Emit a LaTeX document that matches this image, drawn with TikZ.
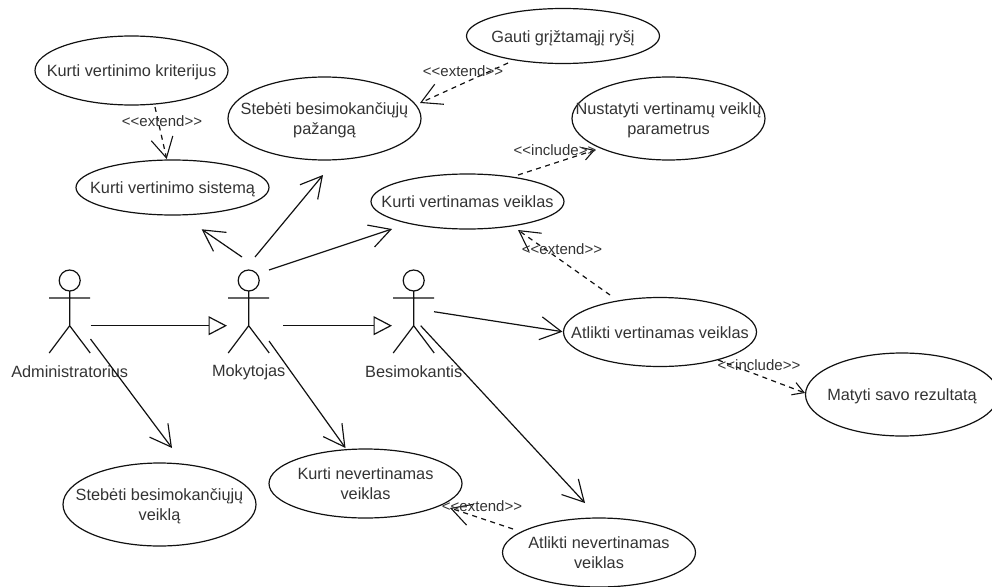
\documentclass[tikz,border=0pt]{standalone}
\usepackage{fontspec}
\setmainfont{Liberation Sans}
\usetikzlibrary{shapes.geometric,arrows.meta}
\definecolor{inkc}{HTML}{111111}
\definecolor{textc}{HTML}{333333}
\newcommand\uctx[1]{\makebox[0pt]{\raisebox{-.4em}[0pt][0pt]{$\vcenter{\hbox{\begin{tabular}{@{}c@{}}#1\end{tabular}}}$}}}
\newcommand\umlactor[3]{%
  \node[acthead] (#1) at (#2,280.5) {};
  \draw[actline] (#1.south) -- (#2,325.7) (#2-20.5,298) -- (#2+20.5,298)
    (#2-20.5,353) -- (#2,325.7) -- (#2+20.5,353);
  \node[actlabel] (#1lab) at (#2,372) {#3};
}
\tikzset{
  ucase/.style 2 args={draw=inkc,ellipse,inner sep=0pt,outer sep=0pt,minimum width=#1pt,minimum height=#2pt,
    font=\fontsize{16.3}{19.3}\selectfont,text=textc},
  acthead/.style={draw=inkc,circle,inner sep=0pt,outer sep=0pt,minimum size=21pt},
  actline/.style={draw=inkc},
  actlabel/.style={font=\fontsize{16.3}{19.3}\selectfont,text=textc,inner sep=0pt},
  edgelabel/.style={font=\fontsize{15}{17}\selectfont,text=textc,inner sep=0pt},
  assoc/.style={draw=inkc,-{Straight Barb[length=21pt,width=23pt,line width=1.15pt]}},
  gener/.style={draw=inkc,line width=1.4pt,-{Triangle[open,length=18.5pt,width=19pt,fill=white,line width=1.2pt]}},
  dep/.style={draw=inkc,dash pattern=on 5pt off 4.5pt,-{Straight Barb[length=20pt,width=22pt,line width=1.1pt]}},
  depsmall/.style={draw=inkc,dash pattern=on 5pt off 4.5pt,-{Straight Barb[length=11pt,width=13pt,line width=1.1pt]}},
}
\begin{document}
\begin{tikzpicture}[x=1pt,y=-1pt,line width=1.2pt]
\useasboundingbox (0,0) rectangle (992,586);
% use cases
\node[ucase={193}{69}] (kk) at (131.5,70.5) {\uctx{Kurti vertinimo kriterijus}};
\node[ucase={193}{55}] (ks) at (172.5,187.5) {\uctx{Kurti vertinimo sistemą}};
\node[ucase={193}{83}] (sp) at (324.5,118.5) {\uctx{Stebėti besimokančiųjų\\pažangą}};
\node[ucase={193}{55}] (gr) at (563,36) {\uctx{Gauti grįžtamąjį ryšį}};
\node[ucase={193}{83}] (nv) at (668.5,118.5) {\uctx{Nustatyti vertinamų veiklų\\parametrus}};
\node[ucase={193}{55}] (kv) at (467.5,201.5) {\uctx{Kurti vertinamas veiklas}};
\node[ucase={193}{69}] (av) at (660,332) {\uctx{Atlikti vertinamas veiklas}};
\node[ucase={193}{83}] (mr) at (902,394.5) {\uctx{Matyti savo rezultatą}};
\node[ucase={193}{83}] (sv) at (159.5,504.5) {\uctx{Stebėti besimokančiųjų\\veiklą}};
\node[ucase={193}{69}] (kn) at (365.5,483.5) {\uctx{Kurti nevertinamas\\veiklas}};
\node[ucase={193}{69}] (an) at (599,552.5) {\uctx{Atlikti nevertinamas\\veiklas}};
% actors
\umlactor{adm}{69.7}{Administratorius}
\umlactor{mok}{248.7}{Mokytojas}
\umlactor{bes}{413.7}{Besimokantis}
% free connector ends
\coordinate (a1) at (90.5,325.7);   \coordinate (a1t) at (227,325.7);
\coordinate (m1) at (283,325.7);    \coordinate (m1t) at (392,325.7);
\coordinate (a2) at (90.5,339);     \coordinate (a2t) at (172,448);
\coordinate (m2) at (269,341);      \coordinate (m2t) at (345.5,448);
\coordinate (m3) at (242,257);      \coordinate (m3t) at (201.7,229.3);
\coordinate (m4) at (255,257);      \coordinate (m4t) at (323,175);
\coordinate (m5) at (269,270);      \coordinate (m5t) at (392,229);
\coordinate (b1) at (434,311.7);    \coordinate (b1t) at (562.5,331.7);
\coordinate (b2) at (420.7,325.7);  \coordinate (b2t) at (585,503);
\coordinate (d1) at (155,107);      \coordinate (d1t) at (166.7,159);
\coordinate (d2) at (508,63);       \coordinate (d2t) at (420,103);
\coordinate (d3) at (518,175);      \coordinate (d3t) at (595,150);
\coordinate (d4) at (610,295);      \coordinate (d4t) at (518,230);
\coordinate (d5) at (718,360);      \coordinate (d5t) at (805,393);
\coordinate (d6) at (513,529);      \coordinate (d6t) at (450,508);
% connectors
\draw[gener] (a1) -- (a1t);
\draw[gener] (m1) -- (m1t);
\draw[assoc] (a2) -- (a2t);
\draw[assoc] (m2) -- (m2t);
\draw[assoc] (m3) -- (m3t);
\draw[assoc] (m4) -- (m4t);
\draw[assoc] (m5) -- (m5t);
\draw[assoc] (b1) -- (b1t);
\draw[assoc] (b2) -- (b2t);
\draw[dep] (d1) -- (d1t);
\draw[dep] (d2) -- (d2t);
\draw[depsmall] (d3) -- (d3t);
\draw[dep] (d4) -- (d4t);
\draw[depsmall] (d5) -- (d5t);
\draw[dep] (d6) -- (d6t);
% connector labels
\node[edgelabel] (l1) at (162,121.5) {<{}<extend>{}>};
\node[edgelabel] (l2) at (463,71.5) {<{}<extend>{}>};
\node[edgelabel] (l3) at (555,150) {<{}<include>{}>};
\node[edgelabel] (l4) at (562,249) {<{}<extend>{}>};
\node[edgelabel] (l5) at (759,365) {<{}<include>{}>};
\node[edgelabel] (l6) at (482,506) {<{}<extend>{}>};
\end{tikzpicture}
\end{document}
